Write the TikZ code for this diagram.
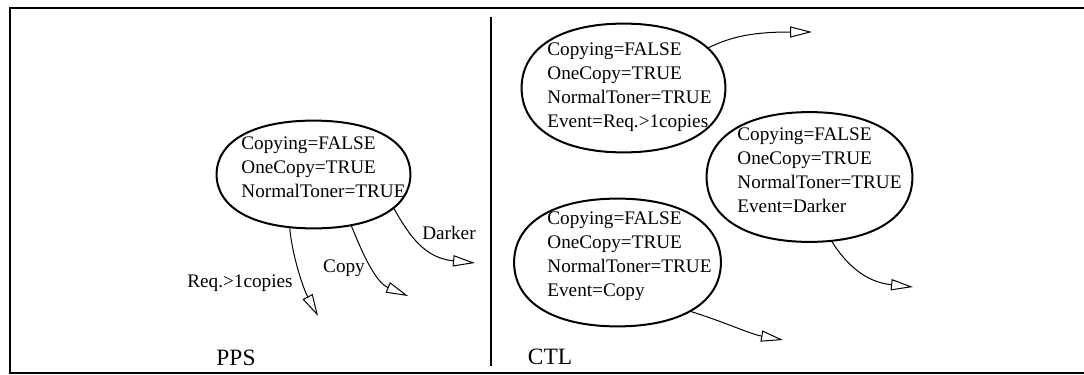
\documentclass[tikz,border=0pt]{standalone}
\usepackage{fontspec}
\setmainfont{Liberation Serif}
\usetikzlibrary{calc, arrows.meta}

% roundness of the state outlines (0.552 would be a true ellipse)
\newcommand\ovalk{0.62}
% #1 box node, #2..#5 extra path code after each quarter (NE, NW, SW, SE)
\newcommand\ovaloutline[5]{%
  \draw[ovalline] (#1.east)
    .. controls ($(#1.east)!\ovalk!(#1.north east)$) and ($(#1.north)!\ovalk!(#1.north east)$) .. (#1.north) #2
    .. controls ($(#1.north)!\ovalk!(#1.north west)$) and ($(#1.west)!\ovalk!(#1.north west)$) .. (#1.west) #3
    .. controls ($(#1.west)!\ovalk!(#1.south west)$) and ($(#1.south)!\ovalk!(#1.south west)$) .. (#1.south) #4
    .. controls ($(#1.south)!\ovalk!(#1.south east)$) and ($(#1.east)!\ovalk!(#1.south east)$) .. (#1.east) #5
    -- cycle;}

\begin{document}
\begin{tikzpicture}[x=0.5pt, y=-0.5pt,
  ovalbox/.style={rectangle, inner sep=0pt},
  ovalline/.style={line width=1pt, line join=round},
  vars/.style={anchor=west, align=left, inner sep=0pt, font=\fontsize{9.6}{12}\selectfont},
  lbl/.style={inner sep=0pt, font=\fontsize{9.6}{12}\selectfont},
  paneltitle/.style={inner sep=0pt, font=\fontsize{11.7}{14}\selectfont},
  trans/.style={line width=0.5pt, -{Triangle[open, length=11pt, width=5.6pt]}},
  frameline/.style={line width=1.2pt}
]
\useasboundingbox (0,0) rectangle (1084,375);

% outer frame (open on the right) and panel divider
\draw[frameline] (1084,7.8) -- (10,7.8) -- (10,373) -- (1084,373);
\draw[line width=0.65pt] (491,17) -- (491,366);

% ---------- PPS panel ----------
\node[ovalbox, minimum width=96.5pt, minimum height=53.5pt] (pps) at (313.5,174.5) {};
\ovaloutline{pps}{}{}{coordinate[pos=.86] (pps-req)}
  {coordinate[pos=.23] (pps-copy) coordinate[pos=.6] (pps-dark)}
\node[vars] (ppstext) at (241,167) {Copying=FALSE\\OneCopy=TRUE\\NormalToner=TRUE};

\coordinate (reqtip) at (318,316);
\coordinate (copytip) at (408,296);
\coordinate (darktip) at (475,263);
\draw[trans] (pps-req) .. controls (292,255) and (303,288) .. (reqtip);
\draw[trans] (pps-copy) .. controls (362,252) and (375,282) .. (copytip);
\draw[trans] (pps-dark) .. controls (410,237) and (425,258) .. (darktip);

\node[lbl] (reqlbl) at (240,283) {Req.>1copies};
\node[lbl] (copylbl) at (344,268) {Copy};
\node[lbl] (darklbl) at (449,233) {Darker};

\node[paneltitle] (ppstitle) at (236,358) {PPS};

% ---------- CTL panel ----------
\node[ovalbox, minimum width=101.5pt, minimum height=64pt] (ereq) at (623.5,88) {};
\ovaloutline{ereq}{coordinate[pos=.4] (ereq-out)}{}{}{}
\node[vars] (ereqtext) at (547,87) {Copying=FALSE\\OneCopy=TRUE\\NormalToner=TRUE\\Event=Req.>1copies};

\node[ovalbox, minimum width=102.5pt, minimum height=64.5pt] (edark) at (809.5,177) {};
\ovaloutline{edark}{}{}{}{coordinate[pos=.12] (edark-out)}
\node[vars] (edarktext) at (737,170) {Copying=FALSE\\OneCopy=TRUE\\NormalToner=TRUE\\Event=Darker};

\node[ovalbox, minimum width=103pt, minimum height=63.5pt] (ecopy) at (617.5,262.5) {};
\ovaloutline{ecopy}{}{}{}{coordinate[pos=.47] (ecopy-out)}
\node[vars] (ecopytext) at (547,256) {Copying=FALSE\\OneCopy=TRUE\\NormalToner=TRUE\\Event=Copy};

\coordinate (ereqtip) at (812,32);
\coordinate (edarktip) at (913,287);
\coordinate (ecopytip) at (783,340);
\draw[trans] (ereq-out) .. controls (732,36) and (755,32) .. (ereqtip);
\draw[trans] (edark-out) .. controls (846,264) and (865,282) .. (edarktip);
\draw[trans] (ecopy-out) .. controls (722,321) and (750,334) .. (ecopytip);

\node[paneltitle] (ctltitle) at (550,357) {CTL};
\end{tikzpicture}
\end{document}
